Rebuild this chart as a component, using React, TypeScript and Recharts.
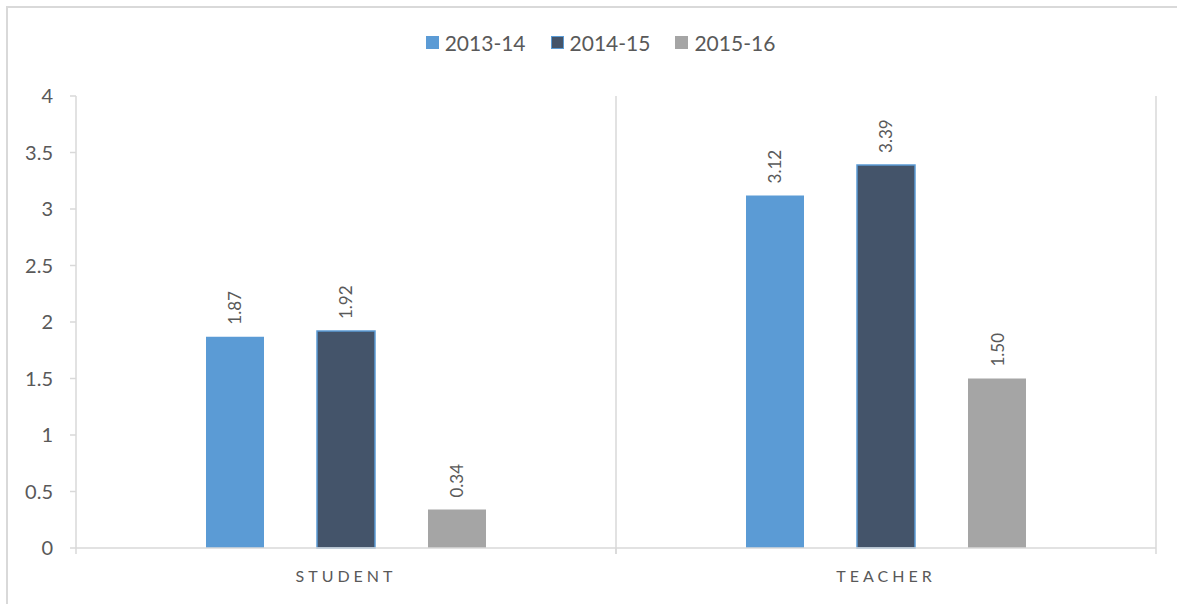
import React from "react";
import { BarChart, Bar, XAxis, YAxis, CartesianGrid, Legend, LabelList } from "recharts";

const categories = ["STUDENT", "TEACHER"];
const series2013 = [1.87, 3.12];
const series2014 = [1.92, 3.39];
const series2015 = [0.34, 1.5];
const yTicks = [0, 0.5, 1, 1.5, 2, 2.5, 3, 3.5, 4];

const seriesInfo = [
  { key: "s2013", name: "2013-14", color: "#5B9BD5", stroke: "none" },
  { key: "s2014", name: "2014-15", color: "#44546A", stroke: "#5B9BD5" },
  { key: "s2015", name: "2015-16", color: "#A5A5A5", stroke: "none" },
];

const data = categories.map((c, i) => ({
  category: c,
  s2013: series2013[i],
  s2014: series2014[i],
  s2015: series2015[i],
}));

const FONT = "Lato, 'Open Sans', sans-serif";
const TEXT = "#595959";
const LINE = "#D9D9D9";

const W = 1177;
const H = 604;
const M = { top: 96, right: 21, left: 0, bottom: 0 };
const Y_W = 76;
const X_H = 56;

function CategoryTick(props: any) {
  const { x, y, payload } = props;
  const band = (W - M.right - Y_W) / categories.length;
  return (
    <g>
      <line x1={x - band / 2} x2={x - band / 2} y1={y - 8} y2={y - 2} stroke={LINE} strokeWidth={1.5} />
      <line x1={x + band / 2} x2={x + band / 2} y1={y - 8} y2={y - 2} stroke={LINE} strokeWidth={1.5} />
      <text x={x} y={y + 26} textAnchor="middle" fill={TEXT} fontSize={16} fontFamily={FONT} letterSpacing={4}>
        {payload.value}
      </text>
    </g>
  );
}

function RotatedLabel(props: any) {
  const { x, y, width, value } = props;
  const cx = x + width / 2;
  const cy = y - 12;
  return (
    <text
      x={cx}
      y={cy}
      transform={`rotate(-90 ${cx} ${cy})`}
      textAnchor="start"
      dominantBaseline="central"
      fill={TEXT}
      fontSize={17}
      fontFamily={FONT}
    >
      {Number(value).toFixed(2)}
    </text>
  );
}

function LegendContent() {
  return (
    <div style={{ display: "flex", justifyContent: "center", gap: 25, fontFamily: FONT, fontSize: 21, color: TEXT }}>
      {seriesInfo.map((s) => (
        <div key={s.key} style={{ display: "flex", alignItems: "center", gap: 6 }}>
          <span
            style={{
              display: "inline-block",
              width: 13,
              height: 13,
              boxSizing: "border-box",
              background: s.color,
              border: s.stroke === "none" ? "none" : `1.5px solid ${s.stroke}`,
            }}
          />
          <span>{s.name}</span>
        </div>
      ))}
    </div>
  );
}

export default function App() {
  return (
    <div style={{ position: "fixed", left: 0, top: 0, width: W, height: H, overflow: "hidden", background: "#fff" }}>
      <BarChart width={W} height={H} data={data} margin={M} barCategoryGap={130} barGap={53}>
        <CartesianGrid
          horizontal={false}
          stroke={LINE}
          strokeWidth={1.5}
          verticalCoordinatesGenerator={({ offset }: any) => [
            offset.left + offset.width / 2,
            offset.left + offset.width,
          ]}
        />
        <XAxis
          dataKey="category"
          height={X_H}
          axisLine={{ stroke: LINE, strokeWidth: 1.5 }}
          tickLine={false}
          tick={<CategoryTick />}
          interval={0}
        />
        <YAxis
          width={Y_W}
          domain={[0, 4]}
          ticks={yTicks}
          interval={0}
          axisLine={{ stroke: LINE, strokeWidth: 1.5 }}
          tickLine={{ stroke: LINE, strokeWidth: 1.5 }}
          tickSize={6}
          tickMargin={17}
          tick={{ fill: TEXT, fontSize: 20, fontFamily: FONT }}
        />
        <Legend
          layout="horizontal"
          verticalAlign="middle"
          align="center"
          content={<LegendContent />}
          wrapperStyle={{ top: 30, left: 12, width: W }}
        />
        {seriesInfo.map((s) => (
          <Bar
            key={s.key}
            dataKey={s.key}
            name={s.name}
            fill={s.color}
            stroke={s.stroke}
            strokeWidth={1.5}
            isAnimationActive={false}
          >
            <LabelList dataKey={s.key} content={<RotatedLabel />} />
          </Bar>
        ))}
      </BarChart>
      {/* chart frame: only top and left edges fall inside the picture */}
      <div style={{ position: "absolute", left: 6, top: 6, width: W, height: 2, background: LINE }} />
      <div style={{ position: "absolute", left: 6, top: 6, width: 2, height: H, background: LINE }} />
    </div>
  );
}
